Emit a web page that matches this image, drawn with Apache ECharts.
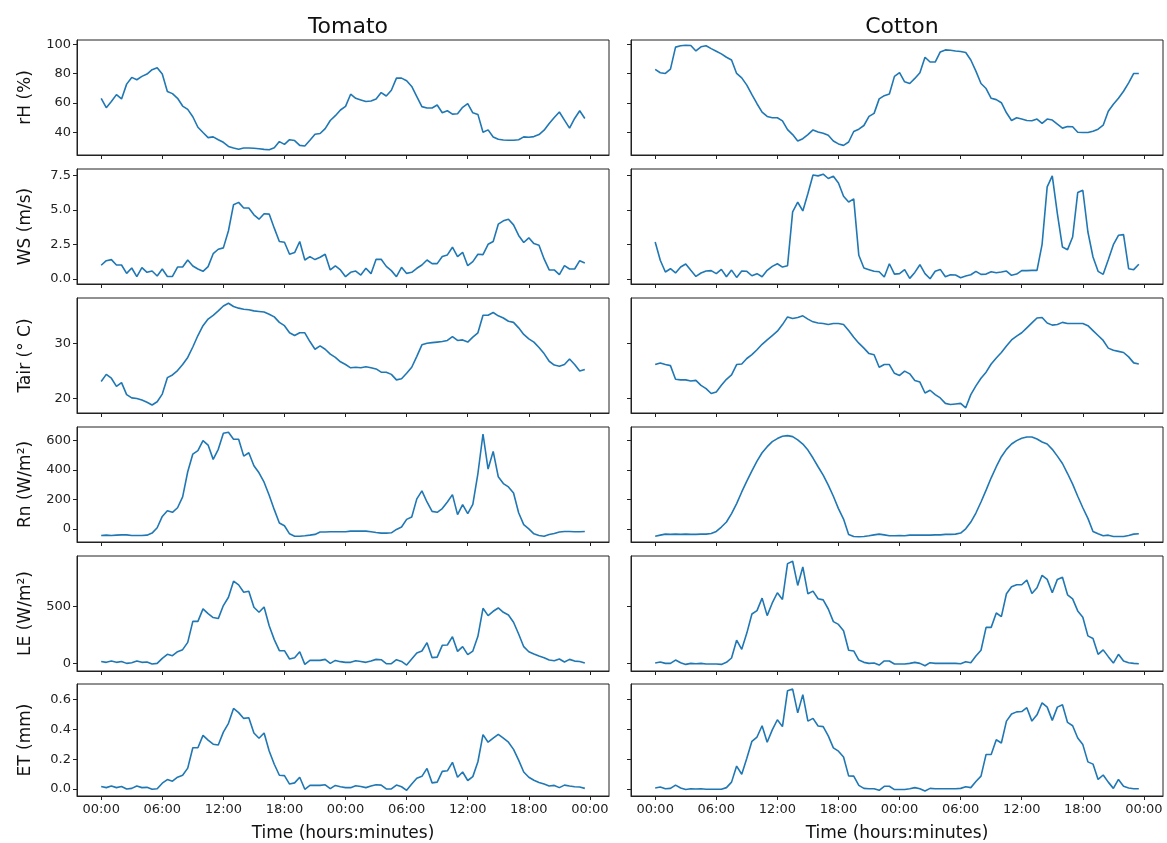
<!DOCTYPE html>
<html>
<head>
<meta charset="utf-8">
<script src="https://cdn.jsdelivr.net/npm/echarts@6/dist/echarts.min.js"></script>
<style>
  html, body { margin: 0; padding: 0; background: #fff; }
  #chart { width: 1167px; height: 843px; }
</style>
</head>
<body>
<div id="chart"></div>
<script>
// half-hourly samples over two days
const hours = Array.from({ length: 96 }, (_, i) => i * 0.5);
const xTicks = [0, 6, 12, 18, 24, 30, 36, 42, 48];
const columnTitles = ['Tomato', 'Cotton'];

const tomatoRH = [63.2,56.8,61,65.7,62.8,72.9,77.5,75.9,78.2,79.8,82.8,84.1,
  79.8,67.8,66.4,63.2,57.9,55.6,50.6,43.4,39.8,36.3,36.8,34.9,
  33.1,30.3,29.2,28.3,29.2,29.2,29,28.7,28.3,28,29.4,33.6,
  31.7,34.9,34.3,31,30.6,34.5,38.6,39.1,42.5,48,51.3,55.2,
  57.7,66,63.2,62.1,61,61.4,62.8,67.1,64.8,68.7,77,77,
  75.2,71.3,64.4,57.5,56.6,56.6,58.6,53.3,54.7,52.4,52.6,57,
  59.5,53.3,52.2,40,41.6,36.8,35.2,34.7,34.5,34.5,34.9,36.8,
  36.6,37,38.4,41.4,46,50.1,53.8,48.3,42.8,49.4,54.7,49.4];
const cottonRH = [83,80.7,80.2,83.2,98.2,99.1,99.5,99.3,95.6,98.4,99.1,97.2,
  95.4,93.6,91.3,89.4,80.2,77.2,72.2,65.7,59.5,53.8,50.8,49.9,
  49.9,47.8,41.8,38.4,34,35.6,38.4,41.6,40.2,39.3,37.9,34,
  32,31,33.3,40.5,42.1,44.6,50.8,52.9,62.8,65,66.2,78.2,
  80.7,74.5,73.3,76.8,80.7,91.3,88,88,94.9,96.3,96.1,95.6,
  95.2,94.5,89.4,81.8,73.3,69.9,63.2,62.3,60.2,53.3,48,49.9,
  49,48,47.8,49,46,49,48.3,45.5,42.8,43.9,43.7,40,
  39.8,39.8,40.7,42.1,44.8,54.3,59.1,63.2,68,73.8,80.2,80.2];

const tomatoWS = [1.0,1.33,1.41,1.02,1.02,0.41,0.8,0.17,0.83,0.49,0.58,0.22,
  0.73,0.19,0.19,0.87,0.87,1.38,0.95,0.73,0.56,0.9,1.84,2.16,
  2.26,3.5,5.39,5.56,5.15,5.15,4.66,4.34,4.73,4.71,3.69,2.72,
  2.67,1.8,1.92,2.72,1.38,1.63,1.41,1.58,1.8,0.66,0.95,0.66,
  0.17,0.49,0.58,0.29,0.78,0.39,1.43,1.43,0.92,0.61,0.17,0.85,
  0.41,0.49,0.78,1.02,1.38,1.12,1.12,1.63,1.75,2.31,1.63,1.94,
  0.97,1.26,1.8,1.77,2.52,2.72,3.98,4.22,4.34,3.93,3.16,2.65,
  2.99,2.57,2.45,1.46,0.66,0.66,0.32,0.97,0.73,0.73,1.33,1.17];
const cottonWS = [2.69,1.36,0.51,0.75,0.44,0.87,1.09,0.63,0.19,0.44,0.58,0.61,
  0.39,0.7,0.17,0.65,0.12,0.58,0.56,0.24,0.39,0.17,0.63,0.92,
  1.11,0.87,0.97,4.87,5.57,4.94,6.2,7.55,7.48,7.6,7.29,7.46,
  6.97,6.0,5.59,5.81,1.72,0.8,0.68,0.56,0.53,0.15,1.11,0.36,
  0.39,0.68,0.05,0.48,1.04,0.39,0.02,0.56,0.7,0.17,0.31,0.29,
  0.1,0.22,0.31,0.56,0.34,0.36,0.53,0.46,0.51,0.58,0.27,0.36,
  0.61,0.61,0.63,0.63,2.52,6.68,7.48,4.75,2.32,2.13,3.05,6.27,
  6.44,3.41,1.6,0.56,0.34,1.4,2.49,3.17,3.22,0.75,0.68,1.07];

const tomatoTair = [23.1,24.4,23.7,22.2,22.9,20.7,20.1,20,19.7,19.3,18.8,19.4,
  20.8,23.8,24.3,25.1,26.2,27.5,29.4,31.5,33.3,34.5,35.2,36,
  36.9,37.4,36.8,36.5,36.3,36.2,36,35.9,35.8,35.4,34.9,33.9,
  33.3,32,31.5,32,32,30.4,29,29.6,29,28.1,27.5,26.7,
  26.2,25.6,25.7,25.6,25.8,25.6,25.4,24.8,24.8,24.4,23.4,23.6,
  24.6,25.7,27.7,29.8,30.1,30.2,30.3,30.4,30.6,31.3,30.6,30.7,
  30.3,31.2,32,35.2,35.2,35.7,35.1,34.7,34.1,33.9,32.9,31.7,
  30.9,30.3,29.3,28.2,26.8,26.1,25.9,26.2,27.2,26.2,25,25.3];
const cottonTair = [26.2,26.5,26.2,26,23.5,23.4,23.4,23.2,23.3,22.4,21.8,20.9,
  21.2,22.4,23.5,24.3,26.2,26.3,27.3,28,28.9,29.9,30.7,31.5,
  32.3,33.5,34.9,34.6,34.8,35.1,34.5,34,33.8,33.7,33.5,33.7,
  33.7,33.5,32.4,31.2,30.1,29.2,28.2,28,25.7,26.2,26.2,24.6,
  24.2,25,24.5,23.3,23,21,21.5,20.7,20.1,19.1,18.9,19,
  19.1,18.3,20.7,22.3,23.7,24.8,26.3,27.4,28.4,29.6,30.7,31.4,
  32,32.9,33.8,34.7,34.8,33.8,33.4,33.5,33.9,33.7,33.7,33.7,
  33.7,33.3,32.4,31.5,30.6,29.2,28.8,28.6,28.4,27.6,26.5,26.3];

const tomatoRn = [-43,-41,-43,-41,-39,-39,-43,-43,-43,-41,-27,9,
  86,125,114,145,218,389,509,532,600,570,473,541,
  650,657,609,609,495,518,430,382,318,230,132,41,
  23,-32,-48,-48,-45,-41,-36,-20,-20,-18,-18,-18,
  -18,-14,-14,-14,-14,-18,-23,-27,-27,-25,-2,14,
  66,82,205,259,184,120,114,139,184,234,98,166,
  105,168,377,645,407,527,355,309,286,245,111,30,
  2,-32,-43,-48,-36,-30,-20,-16,-16,-18,-18,-16];
const cottonRn = [-48,-41,-34,-36,-34,-36,-34,-36,-36,-34,-34,-30,
  -16,14,48,105,173,252,325,395,461,518,559,593,
  614,630,634,627,605,577,536,482,423,366,298,223,
  139,68,-36,-50,-52,-50,-45,-39,-34,-39,-45,-45,
  -43,-45,-41,-41,-41,-41,-41,-39,-39,-36,-36,-34,
  -27,2,48,109,184,264,348,423,491,541,577,600,
  616,625,625,611,591,577,541,495,445,377,305,223,
  145,73,-16,-32,-45,-41,-50,-50,-50,-43,-34,-32];

const tomatoLE = [20,12,23,12,20,3,9,23,12,15,-3,3,
  47,82,70,105,123,187,371,371,480,439,404,395,
  509,582,722,690,626,635,494,450,497,333,211,114,
  114,41,53,105,-6,29,29,29,38,3,29,18,
  12,12,26,20,12,23,38,35,0,0,35,20,
  -12,41,94,111,184,53,58,161,164,237,108,149,
  79,111,240,485,421,459,488,450,427,363,260,149,
  105,85,67,53,32,26,41,15,38,23,20,6];
const cottonLE = [6,15,3,3,32,9,-6,3,0,3,-3,-3,
  -3,-6,12,50,206,126,268,435,465,574,421,532,
  621,562,876,897,685,847,612,635,568,559,479,368,
  344,288,118,112,32,12,3,6,-12,24,24,-3,
  -3,-3,3,12,3,-18,9,3,3,3,3,3,
  0,18,9,68,118,318,318,444,412,612,674,691,
  691,732,615,665,774,738,621,738,756,603,568,462,
  406,244,221,82,121,62,6,82,24,9,3,0];

const tomatoET = [0.017,0.009,0.02,0.009,0.017,0,0.004,0.02,0.009,0.011,-0.002,0.002,
  0.039,0.063,0.052,0.079,0.092,0.14,0.277,0.277,0.36,0.328,0.301,0.295,
  0.382,0.441,0.541,0.513,0.474,0.478,0.376,0.341,0.376,0.255,0.166,0.092,
  0.09,0.033,0.041,0.079,-0.002,0.024,0.024,0.024,0.028,0.002,0.024,0.015,
  0.009,0.009,0.022,0.017,0.009,0.02,0.028,0.026,0,0,0.026,0.015,
  -0.009,0.033,0.072,0.085,0.138,0.041,0.046,0.118,0.122,0.179,0.079,0.114,
  0.057,0.083,0.183,0.365,0.314,0.341,0.367,0.341,0.314,0.266,0.194,0.114,
  0.079,0.059,0.044,0.033,0.02,0.024,0.009,0.026,0.02,0.015,0.013,0.004];
const cottonET = [0.007,0.013,0.002,0.004,0.026,0.007,-0.004,0.002,0,0.002,-0.002,-0.002,
  -0.002,-0.002,0.009,0.046,0.154,0.099,0.206,0.32,0.349,0.425,0.314,0.397,
  0.465,0.419,0.66,0.671,0.511,0.634,0.456,0.474,0.423,0.419,0.357,0.276,
  0.254,0.215,0.088,0.086,0.024,0.004,0.002,0.002,-0.009,0.018,0.018,-0.004,
  -0.004,-0.004,0.002,0.009,0.002,-0.013,0.004,0.002,0.002,0.002,0.002,0.002,
  0.004,0.015,0.009,0.05,0.086,0.232,0.232,0.331,0.309,0.456,0.504,0.518,
  0.52,0.546,0.456,0.498,0.579,0.55,0.461,0.55,0.566,0.447,0.425,0.342,
  0.298,0.182,0.167,0.064,0.094,0.046,0.004,0.064,0.018,0.007,0.002,0.002];

const rowNames = ['rH (%)', 'WS (m/s)', 'Tair (° C)', 'Rn (W/m²)', 'LE (W/m²)', 'ET (mm)'];
const rowTicks = [
  [40, 60, 80, 100],
  [0, 2.5, 5, 7.5],
  [20, 30],
  [0, 200, 400, 600],
  [0, 500],
  [0, 0.2, 0.4, 0.6]
];
const rowDecimals = [0, 1, 0, 0, 0, 1];
const rows = [
  [tomatoRH, cottonRH],
  [tomatoWS, cottonWS],
  [tomatoTair, cottonTair],
  [tomatoRn, cottonRn],
  [tomatoLE, cottonLE],
  [tomatoET, cottonET]
];

const chart = echarts.init(document.getElementById('chart'));

const FONT = 'DejaVu Sans';
const lefts = [77, 631];
const plotW = 532;
const tops = [40, 169, 298, 427, 556, 684];
const plotH = 115;

// matplotlib-like limits: 5% margin each side
const xPad = (hours[hours.length - 1] - hours[0]) * 0.05;
function yLimits(a, b) {
  const all = a.concat(b);
  const lo = Math.min(...all), hi = Math.max(...all);
  const m = (hi - lo) * 0.05;
  return [lo - m, hi + m];
}
function clock(v) {
  const h = ((Math.round(v) % 24) + 24) % 24;
  return (h < 10 ? '0' : '') + h + ':00';
}

const grid = [], xAxis = [], yAxis = [], series = [];
rows.forEach((pair, r) => {
  const lim = yLimits(pair[0], pair[1]);
  pair.forEach((vals, c) => {
    const idx = r * 2 + c;
    const bottomRow = r === rows.length - 1;
    grid.push({
      left: lefts[c], top: tops[r], width: plotW, height: plotH,
      show: true, borderColor: '#222', borderWidth: 1
    });
    xAxis.push({
      type: 'value', gridIndex: idx,
      min: hours[0] - xPad, max: hours[hours.length - 1] + xPad,
      splitLine: { show: false },
      axisLine: { show: true, onZero: false, lineStyle: { color: '#222' } },
      axisTick: { show: true, length: 4, customValues: xTicks, lineStyle: { color: '#222' } },
      axisLabel: {
        show: bottomRow, customValues: xTicks, formatter: clock,
        fontFamily: FONT, fontSize: 13, color: '#222', margin: 7
      },
      name: bottomRow ? 'Time (hours:minutes)' : '',
      nameLocation: 'middle', nameGap: 29,
      nameTextStyle: { fontFamily: FONT, fontSize: 17, color: '#111' }
    });
    yAxis.push({
      type: 'value', gridIndex: idx,
      min: lim[0], max: lim[1],
      splitLine: { show: false },
      axisLine: { show: true, onZero: false, lineStyle: { color: '#222' } },
      axisTick: { show: true, length: 4, customValues: rowTicks[r], lineStyle: { color: '#222' } },
      axisLabel: {
        show: c === 0, customValues: rowTicks[r],
        formatter: v => v.toFixed(rowDecimals[r]),
        fontFamily: FONT, fontSize: 13, color: '#222', margin: 6
      },
      name: c === 0 ? rowNames[r] : '',
      nameLocation: 'middle', nameGap: 43,
      nameTextStyle: { fontFamily: FONT, fontSize: 17, color: '#111' }
    });
    series.push({
      type: 'line', xAxisIndex: idx, yAxisIndex: idx,
      data: hours.map((h, i) => [h, vals[i]]),
      showSymbol: false, animation: false,
      lineStyle: { color: '#1f77b4', width: 1.6 },
      itemStyle: { color: '#1f77b4' }
    });
  });
});

chart.setOption({
  backgroundColor: '#fff',
  animation: false,
  title: columnTitles.map((t, c) => ({
    text: t, left: lefts[c] + plotW / 2, top: 11, textAlign: 'center',
    textStyle: { fontFamily: FONT, fontSize: 22, fontWeight: 'normal', color: '#111' }
  })),
  grid: grid,
  xAxis: xAxis,
  yAxis: yAxis,
  series: series
});
</script>
</body>
</html>
